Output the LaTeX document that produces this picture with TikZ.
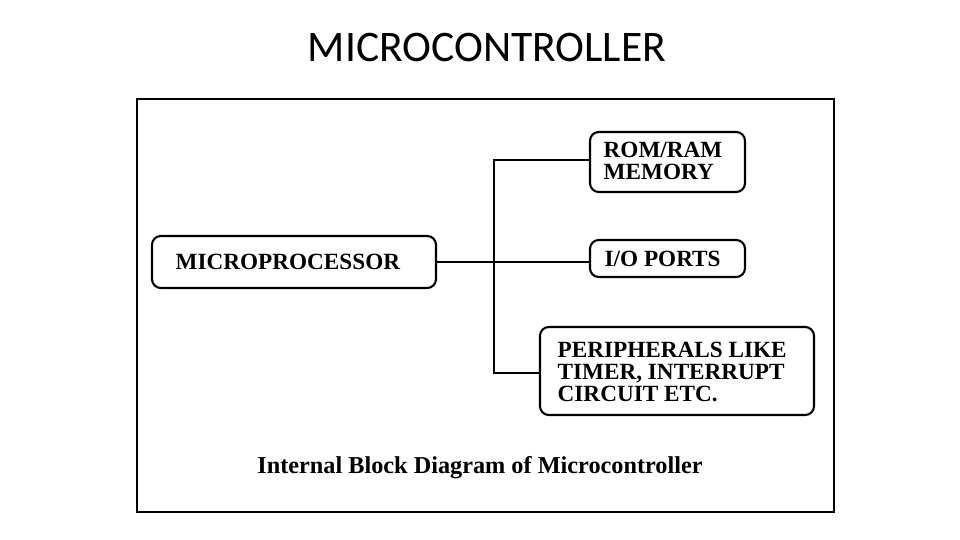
\documentclass[tikz,border=0pt]{standalone}
\usepackage{fontspec}
\setmainfont{Liberation Serif}
\newfontfamily\titlefont{Carlito}
\begin{document}
\begin{tikzpicture}[x=0.01cm,y=-0.01cm,
  box/.style={draw,line width=0.6pt,rounded corners=2.5pt,inner sep=0pt},
  lbl/.style={anchor=west,align=left,inner sep=0pt,font=\bfseries\fontsize{6.6}{6.3}\selectfont},
  wire/.style={line width=0.5pt}]
\useasboundingbox (0,0) rectangle (960,540);
\node[font=\titlefont\fontsize{12.4}{14}\selectfont] (title) at (487,48) {MICROCONTROLLER};
\draw[line width=0.6pt] (137,99) rectangle (834,512);
\draw[box] (152,236) rectangle (436,288);
\node[lbl] (mp) at (175,262) {MICROPROCESSOR};
\draw[box] (590,132) rectangle (745,192);
\node[lbl] (rom) at (603,161) {ROM/RAM\\MEMORY};
\draw[box] (590,240) rectangle (745,277);
\node[lbl] (io) at (604,259) {I/O PORTS};
\draw[box] (540,327) rectangle (814,415);
\node[lbl] (per) at (557,372) {PERIPHERALS LIKE\\TIMER, INTERRUPT\\CIRCUIT ETC.};
\coordinate (mpR) at (436,262);
\coordinate (jn) at (494,262);
\coordinate (romL) at (590,160);
\coordinate (ioL) at (590,262);
\coordinate (perL) at (540,373);
\draw[wire] (mpR) -- (jn) -- (ioL);
\draw[wire] (romL) -- (494,160) -- (494,373) -- (perL);
\node[font=\bfseries\fontsize{6.9}{8}\selectfont] (cap) at (480,468) {Internal Block Diagram of Microcontroller};
\end{tikzpicture}
\end{document}
